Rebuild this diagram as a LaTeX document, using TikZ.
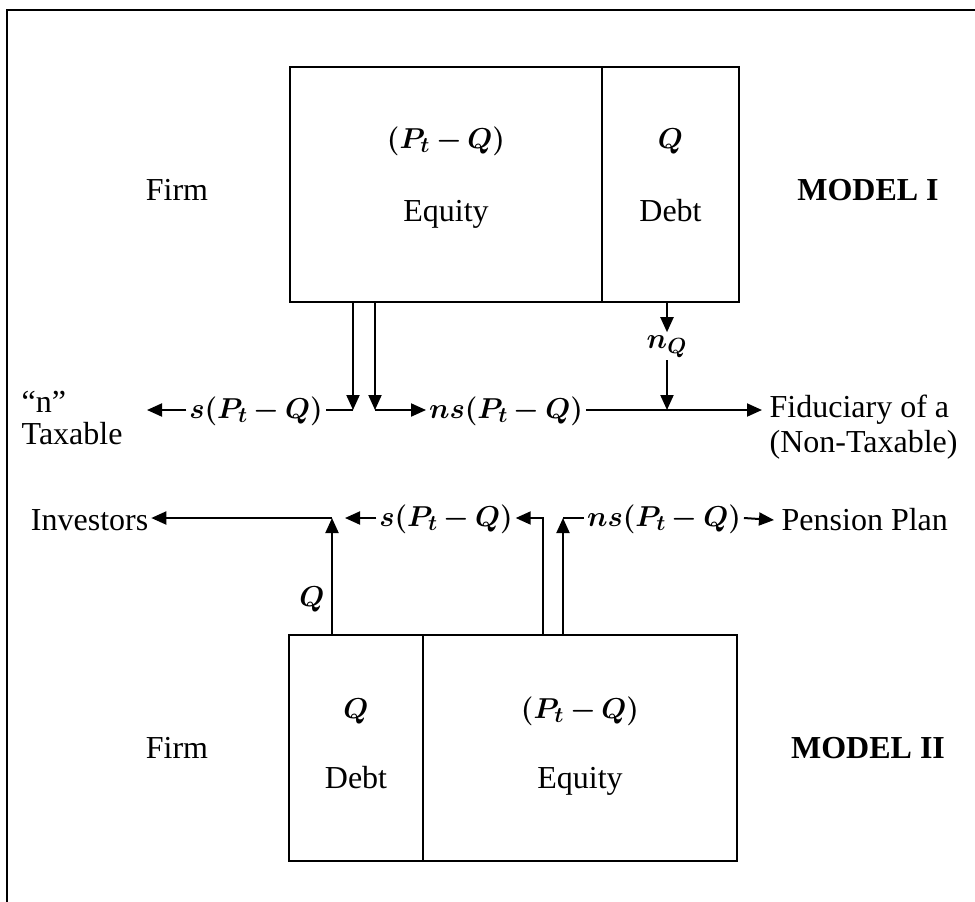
\documentclass[tikz,border=0pt]{standalone}
\usepackage{amsmath, bm}
\usepackage{fontspec}
\setmainfont{Liberation Serif}
\usetikzlibrary{arrows.meta}
\tikzset{flow/.style={-{Triangle[length=7.5pt, width=6.5pt]}}}
\tikzset{cell/.style={draw, inner sep=0pt, outer sep=0pt, minimum height=#1}}
\tikzset{amt/.style={inner sep=1pt, anchor=base, font=\fontsize{15.5}{18}\selectfont}}
\tikzset{word/.style={anchor=base}}
\newcommand{\bq}[1]{$\medmuskip=3.5mu\bm{#1}$}

\begin{document}
\begin{tikzpicture}[x=0.5pt, y=-0.5pt, line width=1pt, font=\fontsize{16}{19}\selectfont]
\useasboundingbox (0,0) rectangle (975,901);
\clip (0,0) rectangle (975,901);
\draw (7,920) -- (7,10) -- (990,10);
% MODEL I
\node[cell=117.5pt, minimum width=156pt] (eqI) at (446,184.5) {};
\node[cell=117.5pt, minimum width=68.5pt] (dbI) at (670.5,184.5) {};
\node[amt] (eqIv) at (446,148) {\bq{(P_t-Q)}};
\node[word] (eqIl) at (446,221) {Equity};
\node[amt] (dbIv) at (670.5,148) {\bq{Q}};
\node[word] (dbIl) at (670.5,221) {Debt};
\node[word] (firmI) at (177,200) {Firm};
\node[word] (modI) at (868,200) {\textbf{MODEL I}};
\node[anchor=west] (nq) at (14,402) {``n''};
\node[anchor=west] (taxable) at (14,434) {Taxable};
\node[amt] (sI) at (256,418) {\bq{s(P_t-Q)}};
\node[amt] (nsI) at (506,418) {\bq{ns(P_t-Q)}};
\node[amt] (nQ) at (667,348) {\bq{n_Q}};
\node[anchor=west] (fid) at (762,410) {Fiduciary of a};
\node[anchor=west] (nontax) at (762,445) {(Non-Taxable)};
\coordinate (jL) at (353,410);
\coordinate (jR) at (375,410);
\coordinate (tx) at (147,410);
\draw[flow] (eqI.south -| jL) -- (jL);
\draw (jL) -- (sI.east |- jL);
\draw[flow] (sI.west |- jL) -- (tx);
\draw[flow] (eqI.south -| jR) -- (jR);
\draw[flow] (jR) -- (nsI.west |- jR);
\draw[flow] (nsI.east |- jR) -- (fid.west);
\draw[flow] (dbI.south -| nQ) -- (nQ.north);
\draw[flow] (nQ.south) -- (nQ |- fid.west);
% MODEL II
\node[cell=113pt, minimum width=67pt] (dbII) at (356,748) {};
\node[cell=113pt, minimum width=157pt] (eqII) at (580,748) {};
\node[amt] (dbIIv) at (356,718) {\bq{Q}};
\node[word] (dbIIl) at (356,788) {Debt};
\node[amt] (eqIIv) at (580,718) {\bq{(P_t-Q)}};
\node[word] (eqIIl) at (580,788) {Equity};
\node[word] (firmII) at (177,758) {Firm};
\node[word] (modII) at (868,758) {\textbf{MODEL II}};
\node[anchor=west, inner sep=1pt] (inv) at (28,520) {Investors};
\node[amt] (sII) at (446,526) {\bq{s(P_t-Q)}};
\node[amt] (nsII) at (664,526) {\bq{ns(P_t-Q)}};
\node[anchor=west] (pen) at (774,520) {Pension Plan};
\node[amt] (qII) at (312,606) {\bq{Q}};
\coordinate (kL) at (332,518);
\coordinate (kT) at (345,518);
\coordinate (kM) at (543,518);
\coordinate (kN) at (563,518);
\draw[flow] (dbII.north -| kL) -- (kL);
\draw[flow] (kL) -- (inv.east |- kL);
\draw[flow] (sII.west |- kL) -- (kT);
\draw[flow] (eqII.north -| kM) -- (kM) -- (sII.east |- kM);
\draw[flow] (eqII.north -| kN) -- (kN);
\draw (kN) -- (nsII.west |- kN);
\draw[flow] (nsII.east |- kN) -- (pen.west);
\end{tikzpicture}
\end{document}
